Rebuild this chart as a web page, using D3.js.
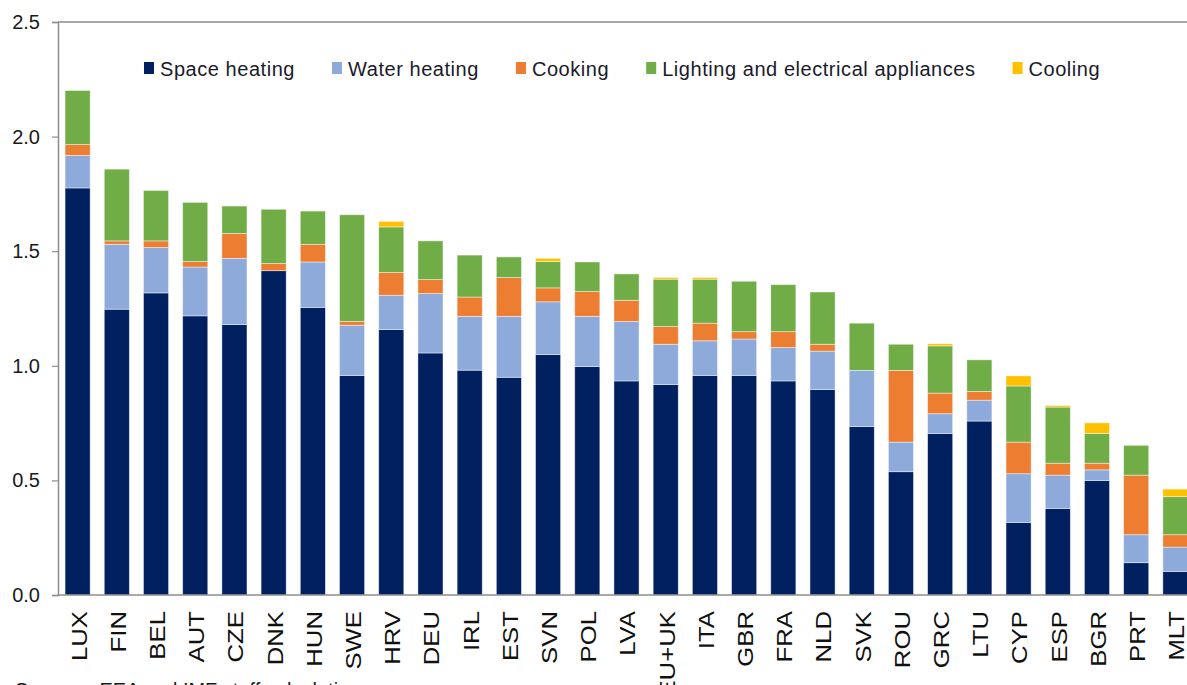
<!DOCTYPE html>
<html>
<head>
<meta charset="utf-8">
<script src="https://cdn.jsdelivr.net/npm/d3@7"></script>
<style>
  html, body { margin: 0; padding: 0; background: #fff; overflow: hidden; }
  svg { display: block; font-family: 'Liberation Sans', Arial, sans-serif; }
</style>
</head>
<body>
<div id="chart"></div>
<script>
const countries = ['LUX', 'FIN', 'BEL', 'AUT', 'CZE', 'DNK', 'HUN', 'SWE', 'HRV', 'DEU', 'IRL', 'EST', 'SVN', 'POL', 'LVA',
  'EU+UK', 'ITA', 'GBR', 'FRA', 'NLD', 'SVK', 'ROU', 'GRC', 'LTU', 'CYP', 'ESP', 'BGR', 'PRT', 'MLT'];

const spaceHeating = [1.776, 1.247, 1.318, 1.218, 1.180, 1.415, 1.255, 0.958, 1.158, 1.056, 0.981, 0.950, 1.049, 0.997, 0.934,
  0.918, 0.958, 0.958, 0.934, 0.897, 0.735, 0.538, 0.705, 0.759, 0.317, 0.378, 0.500, 0.141, 0.103];
const waterHeating = [0.142, 0.283, 0.198, 0.213, 0.289, 0.000, 0.198, 0.219, 0.150, 0.259, 0.235, 0.266, 0.230, 0.219, 0.259,
  0.176, 0.151, 0.159, 0.146, 0.167, 0.245, 0.129, 0.086, 0.091, 0.212, 0.145, 0.046, 0.122, 0.106];
const cooking = [0.047, 0.015, 0.029, 0.024, 0.108, 0.031, 0.077, 0.017, 0.099, 0.061, 0.084, 0.169, 0.061, 0.108, 0.093,
  0.077, 0.077, 0.032, 0.069, 0.030, 0.000, 0.313, 0.090, 0.038, 0.138, 0.052, 0.029, 0.260, 0.054];
const lighting = [0.236, 0.313, 0.220, 0.258, 0.120, 0.237, 0.145, 0.465, 0.199, 0.169, 0.183, 0.090, 0.115, 0.129, 0.115,
  0.207, 0.192, 0.220, 0.205, 0.228, 0.206, 0.114, 0.206, 0.138, 0.245, 0.245, 0.130, 0.130, 0.166];
const cooling = [0, 0, 0, 0, 0, 0, 0, 0, 0.024, 0, 0, 0, 0.014, 0, 0,
  0.007, 0.007, 0, 0, 0, 0, 0, 0.009, 0, 0.044, 0.007, 0.046, 0, 0.033];

const seriesNames = ['Space heating', 'Water heating', 'Cooking', 'Lighting and electrical appliances', 'Cooling'];
const seriesColors = ['#002060', '#8eaadb', '#ed7d31', '#70ad47', '#ffc000'];
const yTicks = [0, 0.5, 1.0, 1.5, 2.0, 2.5];

const w = 1187;
const h = 685;
const padLeft = 58;
const padTop = 22;
const padBottom = 595;
const plotRight = 1195; // plot area runs past the picture edge

const rows = countries.map((c, i) => ({
  country: c,
  'Space heating': spaceHeating[i],
  'Water heating': waterHeating[i],
  'Cooking': cooking[i],
  'Lighting and electrical appliances': lighting[i],
  'Cooling': cooling[i]
}));
const stacked = d3.stack().keys(seriesNames)(rows);

const svg = d3.select('#chart').append('svg').attr('width', w).attr('height', h);

const scaleX = d3.scaleBand()
  .domain(countries)
  .range([padLeft, plotRight])
  .paddingInner(0.36)
  .paddingOuter(0.18);

const scaleY = d3.scaleLinear().domain([0, 2.5]).range([padBottom, padTop]);
const color = d3.scaleOrdinal().domain(seriesNames).range(seriesColors);

// bars
svg.append('g')
  .selectAll('g')
  .data(stacked)
  .join('g')
  .attr('fill', (d) => color(d.key))
  .selectAll('rect')
  .data((d) => d)
  .join('rect')
  .attr('x', (d) => scaleX(d.data.country))
  .attr('width', scaleX.bandwidth())
  .attr('y', (d) => scaleY(d[1]))
  .attr('height', (d) => Math.max(0, scaleY(d[0]) - scaleY(d[1])))
  .attr('stroke', 'rgba(255,255,255,0.55)')
  .attr('stroke-width', 0.8);

// frame: top border
svg.append('line')
  .attr('x1', padLeft).attr('x2', w)
  .attr('y1', scaleY(2.5)).attr('y2', scaleY(2.5))
  .attr('stroke', '#8c8c8c').attr('stroke-width', 1.5);

// y axis
const axisY = d3.axisLeft(scaleY)
  .tickValues(yTicks)
  .tickFormat(d3.format('.1f'))
  .tickSize(6)
  .tickPadding(12);
const gy = svg.append('g').attr('id', 'y-axis').attr('transform', `translate(${padLeft},0)`).call(axisY);
gy.select('.domain').attr('stroke', '#8c8c8c').attr('stroke-width', 1.5);
gy.selectAll('.tick line').attr('stroke', '#8c8c8c').attr('stroke-width', 1.2);
gy.selectAll('.tick text')
  .attr('font-size', 20)
  .attr('font-family', "'Liberation Sans', Arial, sans-serif")
  .attr('fill', '#1a1a1a');

// x axis
const axisX = d3.axisBottom(scaleX).tickSize(0);
const gx = svg.append('g').attr('id', 'x-axis').attr('transform', `translate(0,${padBottom})`).call(axisX);
gx.select('.domain').remove();
svg.append('line')
  .attr('x1', padLeft).attr('x2', w)
  .attr('y1', padBottom).attr('y2', padBottom)
  .attr('stroke', '#8c8c8c').attr('stroke-width', 1.5);
gx.selectAll('.tick text')
  .attr('font-size', 22)
  .attr('font-family', "'Liberation Sans', Arial, sans-serif")
  .attr('fill', '#111')
  .attr('text-anchor', 'end')
  .attr('x', 0)
  .attr('y', 0)
  .attr('dy', '0.36em')
  .attr('transform', 'translate(1,16) rotate(-90) scale(1.17,1)');

// legend
const legend = svg.append('g').attr('id', 'legend');
let lx = 144;
seriesNames.forEach((name) => {
  legend.append('rect')
    .attr('x', lx).attr('y', 62)
    .attr('width', 10).attr('height', 12)
    .attr('fill', color(name));
  const t = legend.append('text')
    .attr('x', lx + 16).attr('y', 76)
    .attr('font-size', 20)
    .attr('letter-spacing', 0.55)
    .attr('fill', '#1a1a2a')
    .text(name);
  lx += 16 + t.node().getComputedTextLength() + 37;
});

// source line (cut off by the bottom edge)
svg.append('text')
  .attr('x', 15).attr('y', 697)
  .attr('font-size', 20)
  .attr('fill', '#1a1a1a')
  .text('Sources: EEA and IMF staff calculations.');
</script>
</body>
</html>
